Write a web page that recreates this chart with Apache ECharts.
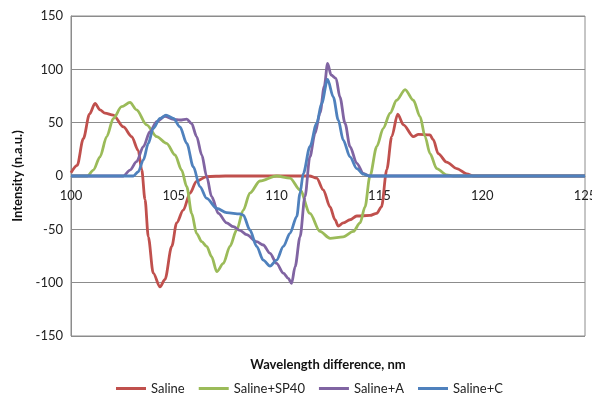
<!DOCTYPE html>
<html>
<head>
<meta charset="utf-8">
<script src="https://cdn.jsdelivr.net/npm/echarts@6/dist/echarts.min.js"></script>
<style>html,body{margin:0;padding:0;background:#fff;}#c{width:592px;height:394px;}</style>
</head>
<body>
<div id="c"></div>
<script>
const seriesNames = ['Saline', 'Saline+SP40', 'Saline+A', 'Saline+C'];
const xTicks = [100, 105, 110, 115, 120, 125];
const yTicks = [-150, -100, -50, 0, 50, 100, 150];

const salineX = [100, 100.3, 100.6, 100.9, 101.17, 101.41, 101.65, 102.06, 102.55, 102.95, 103.27, 103.44, 103.6, 103.76, 104.0, 104.33, 104.57, 104.9, 105.14, 105.46, 105.79, 106.1, 106.6, 107.5, 111.6, 111.95, 112.27, 112.6, 112.84, 113.0, 113.24, 113.57, 113.9, 114.54, 114.87, 115.1, 115.36, 115.6, 115.89, 116.17, 116.65, 116.9, 117.46, 117.62, 117.86, 118.27, 118.76, 119.25, 119.6, 125];
const salineY = [3, 10, 35, 58, 68, 62, 59, 57, 46, 37, 24, 6, -22, -57, -91, -104, -97, -66, -44, -32, -16, -5, -0.5, 0, 0, -2, -13, -29, -41, -47, -44, -41, -37.5, -37, -35, -29, 6, 37, 58, 48, 37, 39, 38.5, 34, 21, 13, 7, 2, 0, 0];

const sp40X = [100, 100.8, 101.09, 101.41, 101.74, 102.06, 102.46, 102.87, 103.19, 103.68, 104.17, 104.65, 105.06, 105.38, 105.63, 105.87, 106.11, 106.36, 106.6, 106.84, 107.09, 107.41, 107.73, 108.06, 108.38, 108.7, 109.19, 110.0, 110.65, 111.14, 111.62, 112.11, 112.6, 113.24, 113.73, 114.06, 114.3, 114.54, 114.87, 115.19, 115.52, 115.84, 116.25, 116.65, 116.98, 117.22, 117.46, 117.79, 118.27, 118.6, 125];
const sp40Y = [0, 0, 5.6, 18, 37, 54, 65, 69, 62, 48, 37, 30.6, 19.7, 5.6, -10, -35, -54, -61.6, -66, -75.6, -89.7, -82, -66, -50.6, -32, -16, -4.7, 0, -2, -13, -35, -52, -58.4, -57, -52, -44, -29, 0, 27.5, 44.7, 59, 71, 81, 71, 55.6, 37, 21, 7, 1, 0, 0];

const aX = [100, 102.55, 102.87, 103.19, 103.52, 103.84, 104.17, 104.57, 104.98, 105.3, 105.63, 105.87, 106.11, 106.36, 106.6, 106.84, 107.17, 107.57, 107.9, 108.22, 108.54, 109.03, 109.35, 109.68, 110.0, 110.33, 110.57, 110.73, 110.9, 111.14, 111.38, 111.62, 111.87, 112.11, 112.32, 112.48, 112.65, 112.89, 113.08, 113.33, 113.57, 113.9, 114.22, 114.5, 125];
const aY = [0, 0, 5.6, 13.4, 27.5, 41.5, 51, 56, 53, 52.5, 53.4, 49, 37, 19.7, -0.6, -19.4, -35, -44, -47.5, -51, -55, -61.6, -64.7, -72.5, -82, -91, -96, -100.6, -85, -57, -19.4, 18, 40, 59, 84, 105.6, 94.7, 91.6, 74, 49.4, 27.5, 11.9, 2.5, 0, 0];

const cX = [100, 103.03, 103.27, 103.52, 103.76, 104.0, 104.33, 104.62, 104.98, 105.3, 105.63, 105.95, 106.27, 106.6, 107.09, 107.57, 108.22, 108.38, 108.7, 109.03, 109.35, 109.68, 110.0, 110.33, 110.65, 110.98, 111.14, 111.3, 111.62, 111.95, 112.19, 112.48, 112.76, 113.0, 113.24, 113.57, 113.9, 114.22, 114.5, 125];
const cY = [0, 0, 4, 15, 30.6, 44.7, 54, 57, 54, 46, 30.6, 8.7, -10, -21, -30.3, -34.4, -35.6, -36.6, -50.6, -66, -78.8, -84.4, -78.8, -66, -53.7, -38, -16, 2.5, 27.5, 49.4, 68, 90.6, 74, 52.5, 33.7, 18, 7, 1.7, 0, 0];

const colors = ['#C0504D', '#9BBB59', '#8064A2', '#4F81BD'];
const allX = [salineX, sp40X, aX, cX];
const allY = [salineY, sp40Y, aY, cY];

const font = 'Lato, "Open Sans", sans-serif';
const chart = echarts.init(document.getElementById('c'), null, {renderer: 'canvas'});
chart.setOption({
  animation: false,
  backgroundColor: '#fff',
  color: colors,
  grid: {left: 71, right: 7, top: 16, bottom: 58, show: true, borderColor: '#8c8c8c', borderWidth: 1,
         containLabel: false, outerBoundsMode: 'none'},
  legend: {
    data: seriesNames, left: 116, top: 382, padding: 0, itemWidth: 30, itemHeight: 3, itemGap: 14,
    icon: 'rect',
    textStyle: {fontFamily: font, fontSize: 13, color: '#222'}
  },
  xAxis: {
    type: 'value', min: xTicks[0], max: xTicks[xTicks.length - 1], interval: 5,
    offset: -160,
    name: 'Wavelength difference, nm', nameLocation: 'middle', nameGap: 182,
    nameTextStyle: {fontFamily: font, fontSize: 13, fontWeight: 'bold', color: '#111'},
    axisLine: {onZero: false, lineStyle: {color: '#8c8c8c'}},
    axisTick: {show: false},
    splitLine: {show: false},
    axisLabel: {fontFamily: font, fontSize: 13, color: '#222', margin: 13}
  },
  yAxis: {
    type: 'value', min: yTicks[0], max: yTicks[yTicks.length - 1], interval: 50,
    name: 'Intensity (n.a.u.)', nameLocation: 'middle', nameGap: 42, nameRotate: 90,
    nameTextStyle: {fontFamily: font, fontSize: 13, fontWeight: 'bold', color: '#111'},
    axisLine: {show: true, lineStyle: {color: '#8c8c8c'}},
    axisTick: {show: false},
    splitLine: {lineStyle: {color: '#8c8c8c'}},
    axisLabel: {fontFamily: font, fontSize: 13, color: '#222', margin: 8}
  },
  series: seriesNames.map((n, i) => ({
    name: n, type: 'line', showSymbol: false, symbol: 'none',
    smooth: 0.3, smoothMonotone: 'x',
    lineStyle: {width: 2.8, color: colors[i]},
    data: allX[i].map((x, j) => [x, allY[i][j]])
  }))
});
</script>
</body>
</html>
